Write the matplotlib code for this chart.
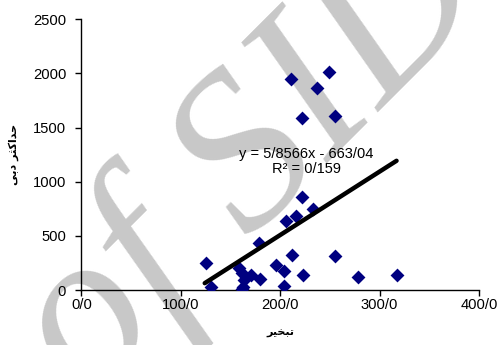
import matplotlib
matplotlib.use("Agg")
import matplotlib.pyplot as plt
import numpy as np

# Data
evap = [125, 130, 158, 161, 164, 162, 163, 171, 180, 179, 196, 204, 204, 212,
        223, 206, 216, 222, 233, 255, 278, 317, 211, 249, 237, 222, 255]
peak = [252, 30, 206, 160, 92, 8, 30, 135, 100, 437, 234, 172, 37, 325,
        138, 635, 683, 856, 748, 317, 123, 136, 1945, 2010, 1868, 1585, 1609]
slope, intercept = 5.8566, -663.04
eq_text = "y = 5/8566x - 663/04\nR² = 0/159"
x_ticks = [0, 100, 200, 300, 400]
x_tick_labels = ["0/0", "100/0", "200/0", "300/0", "400/0"]
y_ticks = [0, 500, 1000, 1500, 2000, 2500]
# Persian labels "تبخیر" and "حداکثر دبی", written in shaped (presentation) forms
# in visual order, since matplotlib does not shape Arabic script.
x_label = "\uFEAE\uFBFF\uFEA8\uFE92\uFE97"
y_label = "\uFBFD\uFE91\uFEA9 \uFEAE\uFE9C\uFB90\uFE8D\uFEAA\uFEA3"

plt.rcParams['font.family'] = ['Liberation Sans', 'DejaVu Sans']

fig = plt.figure(figsize=(4.99, 3.45), dpi=100)
ax = fig.add_axes([0.1633, 0.1594, 0.7967, 0.7846])
ax.set_zorder(1)
ax.patch.set_visible(False)

# watermark
fig.text(0.505, 0.535, "of SID", fontsize=160, family='Liberation Serif',
         style='italic', color='#c8c8c8', rotation=45, ha='center',
         va='center', zorder=-5)

ax.scatter(evap, peak, marker='D', s=50, color='#000080', zorder=3, linewidths=0)
xs = np.array([min(evap) - 1, max(evap)])
ax.plot(xs, slope * xs + intercept, color='black', lw=3.2, zorder=4,
        solid_capstyle='round')

ax.text(226, 1190, eq_text, ha='center', va='center', fontsize=10.5,
        linespacing=1.1, zorder=5)

ax.set_xlim(0, 400)
ax.set_ylim(0, 2500)
ax.set_xticks(x_ticks)
ax.set_xticklabels(x_tick_labels)
ax.set_yticks(y_ticks)
for s in ['top', 'right']:
    ax.spines[s].set_visible(False)
for s in ['left', 'bottom']:
    ax.spines[s].set_linewidth(1.0)
ax.tick_params(axis='both', direction='out', length=4, width=1, labelsize=10.6,
               colors='black')
ax.tick_params(axis='x', pad=1.5)
ax.tick_params(axis='y', pad=7)
ax.set_xlabel(x_label, fontsize=8, fontweight='bold', family='DejaVu Sans', labelpad=12)
ax.set_ylabel(y_label, fontsize=8, fontweight='bold', family='DejaVu Sans', labelpad=10)

fig.savefig("out.png", dpi=100)
